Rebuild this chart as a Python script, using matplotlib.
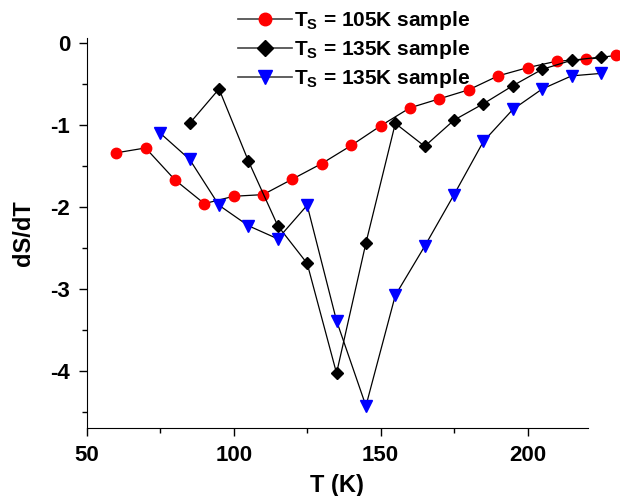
import matplotlib
matplotlib.use('Agg')
import matplotlib.pyplot as plt
from matplotlib.ticker import MultipleLocator
from matplotlib.lines import Line2D

plt.rcParams.update({
    'font.family': 'Liberation Sans',
    'font.weight': 'bold',
    'axes.unicode_minus': False,
    'mathtext.fontset': 'custom',
    'mathtext.rm': 'Liberation Sans:bold',
    'mathtext.bf': 'Liberation Sans:bold',
    'mathtext.default': 'bf',
})

# Dados
t_105 = [60, 70, 80, 90, 100, 110, 120, 130, 140, 150, 160, 170, 180, 190, 200, 210, 220, 230]
ds_105 = [-1.34, -1.28, -1.67, -1.96, -1.87, -1.85, -1.66, -1.47, -1.25, -1.01,
          -0.79, -0.68, -0.57, -0.40, -0.30, -0.22, -0.20, -0.15]

t_135a = [85, 95, 105, 115, 125, 135, 145, 155, 165, 175, 185, 195, 205, 215, 225]
ds_135a = [-0.98, -0.56, -1.44, -2.23, -2.69, -4.03, -2.44, -0.98, -1.26, -0.94,
           -0.74, -0.52, -0.32, -0.21, -0.17]

t_135b = [75, 85, 95, 105, 115, 125, 135, 145, 155, 165, 175, 185, 195, 205, 215, 225]
ds_135b = [-1.10, -1.42, -1.98, -2.23, -2.39, -1.98, -3.39, -4.43, -3.08, -2.48,
           -1.85, -1.20, -0.81, -0.56, -0.40, -0.37]

labels = ['T$_S$ = 105K sample', 'T$_S$ = 135K sample', 'T$_S$ = 135K sample']

fig = plt.figure(figsize=(6.2, 4.96), dpi=100)
ax = fig.add_axes([0.140, 0.137, 0.808, 0.786])

ax.plot(t_105, ds_105, '-', color='black', lw=0.9, marker='o', ms=7.5,
        mfc='red', mec='red', clip_on=False, zorder=3)
ax.plot(t_135a, ds_135a, '-', color='black', lw=0.9, marker='D', ms=6.5,
        mfc='black', mec='black', clip_on=False, zorder=3)
ax.plot(t_135b, ds_135b, '-', color='black', lw=0.9, marker='v', ms=8,
        mfc='blue', mec='blue', clip_on=False, zorder=3)

ax.set_xlim(50, 220.5)
ax.set_ylim(-4.7, 0.06)
ax.xaxis.set_major_locator(MultipleLocator(50))
ax.xaxis.set_minor_locator(MultipleLocator(25))
ax.yaxis.set_major_locator(MultipleLocator(1))
ax.yaxis.set_minor_locator(MultipleLocator(0.5))
ax.tick_params(which='major', direction='out', length=6, width=1, labelsize=16, pad=6)
ax.tick_params(which='minor', direction='out', length=3.5, width=1)
ax.spines['top'].set_visible(False)
ax.spines['right'].set_visible(False)
for lab in ax.get_xticklabels() + ax.get_yticklabels():
    lab.set_fontweight('bold')

ax.set_xlabel('T (K)', fontsize=17, fontweight='bold')
ax.set_ylabel('dS/dT', fontsize=17, fontweight='bold')
ax.xaxis.set_label_coords(0.5, -0.117)
ax.yaxis.set_label_coords(-0.103, 0.5)

# Legenda
handles = [
    Line2D([], [], color='#444444', lw=1.2, marker='o', ms=9, mfc='red', mec='red'),
    Line2D([], [], color='#444444', lw=1.2, marker='D', ms=8, mfc='black', mec='black'),
    Line2D([], [], color='#444444', lw=1.2, marker='v', ms=10, mfc='blue', mec='blue'),
]
fig.legend(handles, labels, loc='upper left', bbox_to_anchor=(0.384, 0.982),
           frameon=False, fontsize=15, handlelength=2.6, handletextpad=0.1,
           labelspacing=0.3, borderaxespad=0, borderpad=0)

fig.savefig('out.png', dpi=100, facecolor='white')
